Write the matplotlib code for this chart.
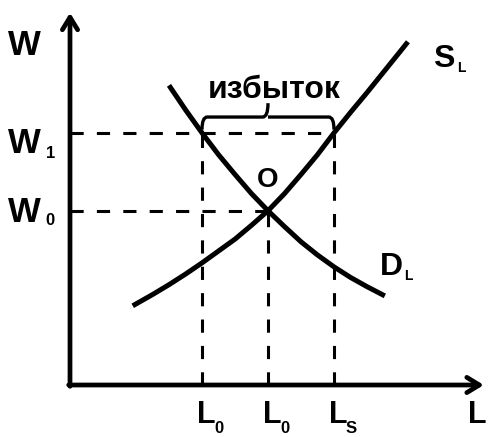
import matplotlib.pyplot as plt
from matplotlib.path import Path
from matplotlib.patches import PathPatch

plt.rcParams['font.family'] = ['Liberation Sans', 'DejaVu Sans']
plt.rcParams['font.weight'] = 'bold'
plt.rcParams['lines.scale_dashes'] = False

# Values (L on x, W on y)
L_low, L_eq, L_sup = 2.0, 3.0, 4.0
W0, W1 = 2.64, 3.82

demand_L = [1.5, 1.75, 2.0, 2.25, 2.5, 2.75, 3.0, 3.25, 3.5, 3.75, 4.0, 4.25, 4.5, 4.77]
demand_W = [4.54, 4.17, 3.82, 3.49, 3.19, 2.90, 2.64, 2.40, 2.17, 1.97, 1.79, 1.63, 1.49, 1.35]

supply_L = [0.95, 1.25, 1.5, 1.75, 2.0, 2.25, 2.5, 2.75, 3.0, 3.25, 3.5, 3.75, 4.0, 4.25, 4.5, 4.75, 5.0, 5.12]
supply_W = [1.20, 1.37, 1.52, 1.68, 1.85, 2.03, 2.21, 2.42, 2.64, 2.90, 3.19, 3.49, 3.82,
            4.13, 4.43, 4.74, 5.05, 5.20]

x_ticks = [L_low, L_eq, L_sup]
x_tick_subs = ['0', '0', 'S']

fig = plt.figure(figsize=(4.89, 4.37), dpi=100)
ax = fig.add_axes([0, 0, 1, 1])
ax.set_xlim(-70 / 66, 419 / 66)
ax.set_ylim(-52 / 66, 385 / 66)
ax.axis('off')

# axes with arrows
arrow = dict(arrowstyle='->,head_length=0.9,head_width=0.55', lw=3.4,
             color='black', shrinkA=0, shrinkB=0)
ax.annotate('', xy=(0, 5.64), xytext=(0, -0.02), arrowprops=arrow)
ax.annotate('', xy=(6.27, 0), xytext=(-0.02, 0), arrowprops=arrow)

# dashed guides
dash = dict(color='black', lw=2.2, ls=(0, (9.5, 9.5)))
ax.plot([0, L_sup], [W1, W1], **dash)
ax.plot([0, L_eq], [W0, W0], **dash)
ax.plot([L_low, L_low], [0, W1], **dash)
ax.plot([L_eq, L_eq], [0, W0], **dash)
ax.plot([L_sup, L_sup], [0, W1], **dash)

# curves
ax.plot(demand_L, demand_W, color='black', lw=3.6, solid_capstyle='butt',
        solid_joinstyle='round')
ax.plot(supply_L, supply_W, color='black', lw=3.6, solid_capstyle='butt',
        solid_joinstyle='round')

# brace over the surplus
mid = (L_low + L_sup) / 2
yb, yt, ytip = W1 + 0.05, W1 + 0.24, W1 + 0.45
verts = [(L_low, yb), (L_low, yt), (L_low + 0.08, yt),
         (mid - 0.08, yt), (mid, yt), (mid, ytip),
         (mid, yt), (mid + 0.08, yt),
         (L_sup - 0.08, yt), (L_sup, yt), (L_sup, yb)]
codes = [Path.MOVETO, Path.CURVE3, Path.CURVE3,
         Path.LINETO, Path.CURVE3, Path.CURVE3,
         Path.MOVETO, Path.LINETO,
         Path.LINETO, Path.CURVE3, Path.CURVE3]
ax.add_patch(PathPatch(Path(verts, codes), fill=False, lw=2.4, color='black'))

ax.text(mid + 0.09, W1 + 0.53, 'избыток', fontsize=23, ha='center', va='baseline')

# labels
ax.text(-0.94, 5.0, 'W', fontsize=25, ha='left', va='baseline')
ax.text(-0.94, W1 - 0.30, 'W', fontsize=25, ha='left', va='baseline')
ax.text(-0.37, W1 - 0.38, '1', fontsize=12, ha='left', va='baseline')
ax.text(-0.94, W0 - 0.17, 'W', fontsize=25, ha='left', va='baseline')
ax.text(-0.37, W0 - 0.22, '0', fontsize=12, ha='left', va='baseline')

for x, s in zip(x_ticks, x_tick_subs):
    ax.text(x - 0.08, -0.58, 'L', fontsize=22, ha='left', va='baseline')
    ax.text(x + 0.18, -0.72, s, fontsize=12, ha='left', va='baseline')
ax.text(6.03, -0.58, 'L', fontsize=22, ha='left', va='baseline')

ax.text(L_eq, 3.0, 'O', fontsize=20, ha='center', va='baseline')
ax.text(5.5, 4.82, 'S', fontsize=23, ha='left', va='baseline')
ax.text(5.86, 4.74, 'L', fontsize=10, ha='left', va='baseline')
ax.text(4.70, 1.67, 'D', fontsize=23, ha='left', va='baseline')
ax.text(5.06, 1.59, 'L', fontsize=10, ha='left', va='baseline')

fig.savefig('out.png', dpi=100)
